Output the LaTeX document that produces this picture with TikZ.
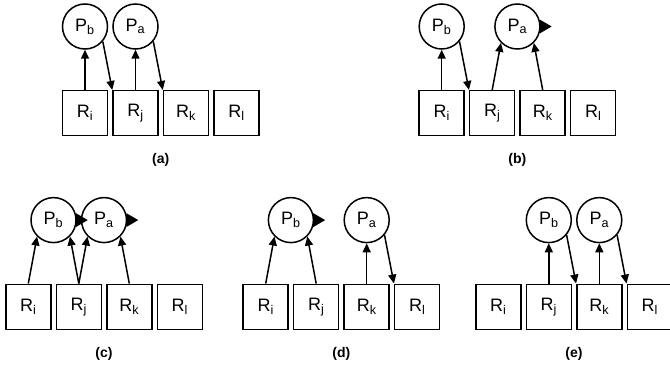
\documentclass[tikz,border=0pt]{standalone}
\usepackage{fontspec}
\setmainfont{Liberation Sans}
\usetikzlibrary{arrows.meta}
\begin{document}
\begin{tikzpicture}[x=1pt,y=-1pt,
  reg/.style={draw, line width=1.5pt, minimum size=45pt, inner sep=0pt, font=\fontsize{18}{20}\selectfont},
  proc/.style={draw, circle, line width=1.5pt, minimum size=45pt, inner sep=0pt, font=\fontsize{18}{20}\selectfont},
  conn/.style={line width=1.5pt, -{Triangle[length=9pt,width=8pt]}},
  paneltitle/.style={font=\bfseries\fontsize{14}{16}\selectfont},
  turn/.style={fill=black}]
\useasboundingbox (0,0) rectangle (670,369);
% (a)
\begin{scope}[shift={(0,0)}, name prefix=a-]
  \node[reg] (i) at (85,113.2) {R\textsubscript{i}};
  \node[reg] (j) at (135.5,113.2) {R\textsubscript{j}};
  \node[reg] (k) at (186,113.2) {R\textsubscript{k}};
  \node[reg] (l) at (236.5,113.2) {R\textsubscript{l}};
  \node[proc] (pb) at (85,26.5) {P\textsubscript{b}};
  \node[proc] (pa) at (135.5,26.5) {P\textsubscript{a}};
  \draw[conn] (i.north) -- (pb.south);
  \draw[conn] (pb.-40) -- (j.north west);
  \draw[conn] (j.north) -- (pa.south);
  \draw[conn] (pa.-40) -- (k.north west);
  \node[paneltitle] (lab) at (160.7,160) {(a)};
\end{scope}
% (b)
\begin{scope}[shift={(356.7,0)}, name prefix=b-]
  \node[reg] (i) at (85,113.2) {R\textsubscript{i}};
  \node[reg] (j) at (135.5,113.2) {R\textsubscript{j}};
  \node[reg] (k) at (186,113.2) {R\textsubscript{k}};
  \node[reg] (l) at (236.5,113.2) {R\textsubscript{l}};
  \node[proc] (pb) at (85,26.5) {P\textsubscript{b}};
  \node[proc] (pa) at (160.7,26.5) {P\textsubscript{a}};
  \draw[conn] (i.north) -- (pb.south);
  \draw[conn] (pb.-40) -- (j.north west);
  \draw[conn] (j.north) -- (pa.-135);
  \draw[conn] (k.north) -- (pa.-45);
  \fill[turn] ([shift={(-1,-7)}]pa.east) -- ([shift={(11,0)}]pa.east) -- ([shift={(-1,7)}]pa.east) -- cycle;
  \node[paneltitle] (lab) at (160.7,160) {(b)};
\end{scope}
% (c)
\begin{scope}[shift={(-56.7,193.6)}, name prefix=c-]
  \node[reg] (i) at (85,113.2) {R\textsubscript{i}};
  \node[reg] (j) at (135.5,113.2) {R\textsubscript{j}};
  \node[reg] (k) at (186,113.2) {R\textsubscript{k}};
  \node[reg] (l) at (236.5,113.2) {R\textsubscript{l}};
  \node[proc] (pb) at (110.2,26.5) {P\textsubscript{b}};
  \node[proc] (pa) at (160.7,26.5) {P\textsubscript{a}};
  \draw[conn] (i.north) -- (pb.-135);
  \draw[conn] (j.north) -- (pb.-45);
  \draw[conn] (j.north) -- (pa.-135);
  \draw[conn] (k.north) -- (pa.-45);
  \fill[turn] ([shift={(-1,-7)}]pb.east) -- ([shift={(11,0)}]pb.east) -- ([shift={(-1,7)}]pb.east) -- cycle;
  \fill[turn] ([shift={(-1,-7)}]pa.east) -- ([shift={(11,0)}]pa.east) -- ([shift={(-1,7)}]pa.east) -- cycle;
  \node[paneltitle] (lab) at (160.7,160) {(c)};
\end{scope}
% (d)
\begin{scope}[shift={(180.7,193.6)}, name prefix=d-]
  \node[reg] (i) at (85,113.2) {R\textsubscript{i}};
  \node[reg] (j) at (135.5,113.2) {R\textsubscript{j}};
  \node[reg] (k) at (186,113.2) {R\textsubscript{k}};
  \node[reg] (l) at (236.5,113.2) {R\textsubscript{l}};
  \node[proc] (pb) at (110.2,26.5) {P\textsubscript{b}};
  \node[proc] (pa) at (186,26.5) {P\textsubscript{a}};
  \draw[conn] (i.north) -- (pb.-135);
  \draw[conn] (j.north) -- (pb.-45);
  \draw[conn] (k.north) -- (pa.south);
  \draw[conn] (pa.-40) -- (l.north west);
  \fill[turn] ([shift={(-1,-7)}]pb.east) -- ([shift={(11,0)}]pb.east) -- ([shift={(-1,7)}]pb.east) -- cycle;
  \node[paneltitle] (lab) at (160.7,160) {(d)};
\end{scope}
% (e)
\begin{scope}[shift={(413.3,193.6)}, name prefix=e-]
  \node[reg] (i) at (85,113.2) {R\textsubscript{i}};
  \node[reg] (j) at (135.5,113.2) {R\textsubscript{j}};
  \node[reg] (k) at (186,113.2) {R\textsubscript{k}};
  \node[reg] (l) at (236.5,113.2) {R\textsubscript{l}};
  \node[proc] (pb) at (135.5,26.5) {P\textsubscript{b}};
  \node[proc] (pa) at (186,26.5) {P\textsubscript{a}};
  \draw[conn] (j.north) -- (pb.south);
  \draw[conn] (pb.-40) -- (k.north west);
  \draw[conn] (k.north) -- (pa.south);
  \draw[conn] (pa.-40) -- (l.north west);
  \node[paneltitle] (lab) at (160.7,160) {(e)};
\end{scope}
\end{tikzpicture}
\end{document}
